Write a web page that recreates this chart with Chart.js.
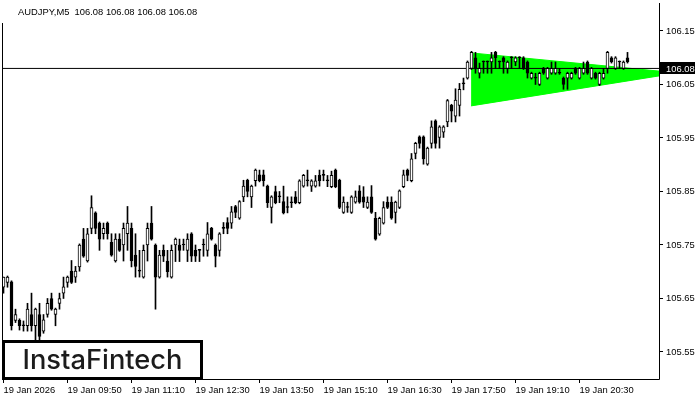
<!DOCTYPE html>
<html>
<head>
<meta charset="utf-8">
<script src="https://cdn.jsdelivr.net/npm/chart.js@4.4.1/dist/chart.umd.min.js"></script>
<style>
  html, body { margin: 0; padding: 0; background: #fff; }
  #chart { display: block; }
</style>
</head>
<body>
<canvas id="chart" width="700" height="400"></canvas>
<script>
const symbolTitle = 'AUDJPY,M5  106.08 106.08 106.08 106.08';
const logoText = 'InstaFintech';
const lastPrice = 106.08;

// x axis: one slot per M5 bar, labels every 16 bars
const timeTickIndex = [0, 16, 32, 48, 64, 80, 96, 112, 128, 144];
const timeLabels = ['19 Jan 2026', '19 Jan 09:50', '19 Jan 11:10', '19 Jan 12:30', '19 Jan 13:50',
  '19 Jan 15:10', '19 Jan 16:30', '19 Jan 17:50', '19 Jan 19:10', '19 Jan 20:30'];
const priceTicks = [105.55, 105.65, 105.75, 105.85, 105.95, 106.05, 106.15];

const opens = [
  105.671, 105.680, 105.681, 105.609, 105.609, 105.599, 105.599, 105.620, 105.599, 105.620,
  105.589, 105.620, 105.650, 105.620, 105.641, 105.660, 105.680, 105.701, 105.690, 105.709,
  105.761, 105.720, 105.781, 105.810, 105.791, 105.771, 105.791, 105.755, 105.720, 105.761,
  105.750, 105.771, 105.781, 105.731, 105.701, 105.690, 105.750, 105.791, 105.750, 105.690,
  105.740, 105.720, 105.690, 105.750, 105.750, 105.750, 105.740, 105.771, 105.740, 105.740,
  105.750, 105.740, 105.781, 105.750, 105.740, 105.781, 105.792, 105.791, 105.822, 105.800,
  105.840, 105.871, 105.840, 105.870, 105.881, 105.881, 105.860, 105.820, 105.850, 105.840,
  105.831, 105.820, 105.829, 105.840, 105.829, 105.860, 105.870, 105.860, 105.860, 105.880,
  105.880, 105.870, 105.859, 105.890, 105.871, 105.811, 105.820, 105.811, 105.830, 105.851,
  105.840, 105.820, 105.840, 105.800, 105.770, 105.791, 105.830, 105.830, 105.811, 105.820,
  105.859, 105.890, 105.870, 105.921, 105.952, 105.952, 105.901, 105.940, 105.982, 105.951,
  105.961, 105.980, 106.011, 105.991, 106.011, 106.051, 106.062, 106.080, 106.100, 106.071,
  106.092, 106.092, 106.092, 106.110, 106.092, 106.100, 106.080, 106.100, 106.092, 106.100,
  106.100, 106.092, 106.062, 106.062, 106.050, 106.080, 106.062, 106.071, 106.071, 106.071,
  106.062, 106.062, 106.062, 106.080, 106.062, 106.071, 106.092, 106.062, 106.071, 106.050,
  106.062, 106.080, 106.100, 106.080, 106.092, 106.080, 106.100
];
const highs = [
  105.690, 105.692, 105.683, 105.630, 105.612, 105.608, 105.641, 105.660, 105.632, 105.641,
  105.620, 105.650, 105.660, 105.632, 105.660, 105.690, 105.692, 105.721, 105.710, 105.752,
  105.781, 105.781, 105.842, 105.812, 105.793, 105.791, 105.793, 105.771, 105.771, 105.771,
  105.791, 105.822, 105.791, 105.771, 105.740, 105.750, 105.791, 105.822, 105.752, 105.740,
  105.750, 105.740, 105.750, 105.763, 105.761, 105.761, 105.771, 105.773, 105.750, 105.742,
  105.761, 105.792, 105.783, 105.752, 105.773, 105.792, 105.801, 105.822, 105.824, 105.833,
  105.871, 105.873, 105.862, 105.892, 105.890, 105.890, 105.862, 105.842, 105.860, 105.850,
  105.860, 105.840, 105.840, 105.850, 105.872, 105.882, 105.890, 105.872, 105.880, 105.890,
  105.890, 105.880, 105.888, 105.892, 105.873, 105.840, 105.830, 105.842, 105.851, 105.861,
  105.859, 105.840, 105.861, 105.811, 105.802, 105.831, 105.840, 105.840, 105.832, 105.853,
  105.890, 105.892, 105.921, 105.942, 105.954, 105.954, 105.933, 105.982, 105.984, 105.973,
  105.973, 106.022, 106.013, 106.042, 106.052, 106.062, 106.094, 106.112, 106.110, 106.090,
  106.094, 106.094, 106.110, 106.112, 106.094, 106.102, 106.094, 106.102, 106.102, 106.102,
  106.102, 106.094, 106.073, 106.071, 106.073, 106.082, 106.082, 106.092, 106.092, 106.080,
  106.064, 106.073, 106.073, 106.082, 106.082, 106.092, 106.094, 106.082, 106.073, 106.073,
  106.080, 106.112, 106.102, 106.102, 106.094, 106.094, 106.110
];
const lows = [
  105.660, 105.671, 105.591, 105.605, 105.591, 105.589, 105.589, 105.589, 105.572, 105.572,
  105.585, 105.615, 105.628, 105.599, 105.630, 105.650, 105.671, 105.678, 105.680, 105.701,
  105.727, 105.718, 105.771, 105.771, 105.740, 105.761, 105.761, 105.729, 105.718, 105.738,
  105.720, 105.740, 105.709, 105.690, 105.690, 105.688, 105.720, 105.759, 105.630, 105.688,
  105.719, 105.690, 105.688, 105.719, 105.719, 105.740, 105.719, 105.719, 105.719, 105.719,
  105.729, 105.729, 105.759, 105.709, 105.729, 105.771, 105.771, 105.781, 105.801, 105.798,
  105.831, 105.840, 105.820, 105.860, 105.868, 105.860, 105.820, 105.791, 105.827, 105.829,
  105.808, 105.810, 105.820, 105.827, 105.827, 105.858, 105.860, 105.850, 105.858, 105.860,
  105.870, 105.859, 105.857, 105.857, 105.818, 105.809, 105.811, 105.809, 105.828, 105.828,
  105.820, 105.818, 105.809, 105.759, 105.768, 105.789, 105.818, 105.798, 105.791, 105.818,
  105.857, 105.870, 105.868, 105.911, 105.931, 105.901, 105.899, 105.931, 105.931, 105.931,
  105.951, 105.971, 105.980, 105.980, 105.991, 106.040, 106.060, 106.078, 106.071, 106.062,
  106.071, 106.071, 106.071, 106.080, 106.080, 106.071, 106.071, 106.080, 106.085, 106.080,
  106.078, 106.062, 106.060, 106.050, 106.048, 106.069, 106.060, 106.069, 106.069, 106.069,
  106.041, 106.041, 106.060, 106.069, 106.060, 106.069, 106.069, 106.060, 106.060, 106.048,
  106.060, 106.071, 106.090, 106.078, 106.080, 106.078, 106.090
];
const closes = [
  105.690, 105.690, 105.599, 105.620, 105.599, 105.599, 105.630, 105.599, 105.630, 105.579,
  105.610, 105.641, 105.630, 105.630, 105.650, 105.672, 105.690, 105.680, 105.701, 105.750,
  105.729, 105.771, 105.820, 105.781, 105.761, 105.781, 105.771, 105.731, 105.761, 105.740,
  105.781, 105.791, 105.720, 105.710, 105.701, 105.740, 105.781, 105.761, 105.690, 105.731,
  105.729, 105.700, 105.740, 105.761, 105.740, 105.750, 105.761, 105.729, 105.729, 105.740,
  105.750, 105.771, 105.761, 105.729, 105.771, 105.781, 105.781, 105.812, 105.811, 105.831,
  105.860, 105.850, 105.860, 105.890, 105.870, 105.870, 105.829, 105.840, 105.829, 105.840,
  105.810, 105.820, 105.829, 105.829, 105.870, 105.880, 105.870, 105.870, 105.870, 105.870,
  105.880, 105.870, 105.880, 105.859, 105.820, 105.830, 105.820, 105.840, 105.840, 105.830,
  105.830, 105.830, 105.811, 105.761, 105.800, 105.820, 105.820, 105.800, 105.830, 105.851,
  105.881, 105.880, 105.911, 105.940, 105.940, 105.911, 105.931, 105.971, 105.940, 105.971,
  105.971, 106.020, 106.000, 106.021, 106.041, 106.051, 106.092, 106.110, 106.080, 106.080,
  106.092, 106.092, 106.100, 106.100, 106.092, 106.092, 106.092, 106.100, 106.100, 106.100,
  106.080, 106.071, 106.071, 106.062, 106.071, 106.071, 106.080, 106.080, 106.080, 106.071,
  106.050, 106.071, 106.071, 106.071, 106.080, 106.080, 106.071, 106.080, 106.062, 106.071,
  106.071, 106.110, 106.092, 106.100, 106.092, 106.092, 106.092
];

// green pennant: start bar and the two edges (start price, price at right edge)
const pennantBars = [116.9, 163.875];
const pennantUpper = [106.109, 106.075];
const pennantLower = [106.010, 106.066];

const xMin = -0.125, xMax = 163.875;
const yMin = 105.4995, yMax = 106.2023;
const axisFont = { family: "'Liberation Sans', Arial, sans-serif", size: 9.4 };

const bodies = opens.map((o, i) => ({ x: i, y: [o, closes[i]] }));
const wicks = opens.map((o, i) => ({ x: i, y: [lows[i], highs[i]] }));

const chromePlugin = {
    id: 'chrome',
    afterDraw(chart) {
        const { ctx, chartArea: a } = chart;
        ctx.save();
        // frame
        ctx.strokeStyle = '#000';
        ctx.lineWidth = 1;
        ctx.beginPath();
        ctx.moveTo(a.left - 0.5, 23);
        ctx.lineTo(a.left - 0.5, a.bottom + 0.5);
        ctx.lineTo(a.right + 0.5, a.bottom + 0.5);
        ctx.lineTo(a.right + 0.5, a.top);
        ctx.stroke();

        // title
        ctx.fillStyle = '#000';
        ctx.font = "9.4px 'Liberation Sans', Arial, sans-serif";
        ctx.textBaseline = 'alphabetic';
        ctx.textAlign = 'left';
        ctx.fillText(symbolTitle, 18, 15);

        // last price box
        const py = chart.scales.y.getPixelForValue(lastPrice);
        ctx.fillStyle = '#000';
        ctx.fillRect(a.right + 1, Math.round(py) - 6, 35, 12);
        ctx.fillStyle = '#fff';
        ctx.textBaseline = 'middle';
        ctx.fillText(lastPrice.toFixed(2), 666, py + 0.5);

        // logo box
        ctx.fillStyle = '#fff';
        ctx.fillRect(2, 340, 201, 40);
        ctx.lineWidth = 3;
        ctx.strokeStyle = '#000';
        ctx.strokeRect(3.5, 341.5, 198, 37);
        ctx.fillStyle = '#1c1c1c';
        ctx.font = "500 27px Inter, 'Open Sans', sans-serif";
        ctx.textBaseline = 'alphabetic';
        const w = ctx.measureText(logoText).width;
        ctx.translate(22.5, 368.5);
        ctx.scale(160 / w, 1);
        ctx.fillText(logoText, 0, 0);
        ctx.restore();
    }
};

new Chart(document.getElementById('chart'), {
    type: 'bar',
    data: {
        datasets: [
            {
                type: 'line',
                data: pennantBars.map((x, i) => ({ x, y: pennantUpper[i] })),
                borderColor: '#00ff00',
                borderWidth: 1,
                pointRadius: 0,
                fill: false,
                order: 5
            },
            {
                type: 'line',
                data: pennantBars.map((x, i) => ({ x, y: pennantLower[i] })),
                borderColor: '#00ff00',
                backgroundColor: '#00ff00',
                borderWidth: 1,
                pointRadius: 0,
                fill: '-1',
                order: 4
            },
            {
                type: 'line',
                data: [{ x: xMin, y: lastPrice }, { x: xMax, y: lastPrice }],
                borderColor: '#000',
                borderWidth: 1,
                pointRadius: 0,
                fill: false,
                order: 3
            },
            {
                data: wicks,
                barThickness: 1,
                backgroundColor: '#000',
                borderWidth: 0,
                grouped: false,
                order: 2
            },
            {
                data: bodies,
                barThickness: 3,
                backgroundColor: (c) => {
                    const i = c.dataIndex;
                    return closes[i] > opens[i] ? '#fff' : '#000';
                },
                borderColor: '#000',
                borderWidth: 1,
                borderSkipped: false,
                minBarLength: 1,
                grouped: false,
                order: 1
            }
        ]
    },
    options: {
        responsive: false,
        animation: false,
        events: [],
        layout: { padding: { left: 3, top: 3, right: 0, bottom: 0 } },
        plugins: {
            legend: { display: false },
            tooltip: { enabled: false }
        },
        scales: {
            x: {
                type: 'linear',
                min: xMin,
                max: xMax,
                offset: false,
                afterBuildTicks: (s) => { s.ticks = timeTickIndex.map(v => ({ value: v })); },
                afterFit: (s) => {
                    s.height = 21;
                    s.paddingLeft = 0;
                    s.paddingRight = 0;
                },
                ticks: {
                    autoSkip: false,
                    maxRotation: 0,
                    align: 'start',
                    padding: 2,
                    color: '#000',
                    font: axisFont,
                    callback: (v) => timeLabels[timeTickIndex.indexOf(v)]
                },
                grid: { drawOnChartArea: false, tickLength: 4, color: '#000', offset: false },
                border: { display: false }
            },
            y: {
                position: 'right',
                min: yMin,
                max: yMax,
                afterBuildTicks: (s) => { s.ticks = priceTicks.map(v => ({ value: v })); },
                afterFit: (s) => {
                    s.width = 41;
                    s.paddingTop = 0;
                    s.paddingBottom = 0;
                },
                ticks: {
                    padding: 3,
                    color: '#000',
                    font: axisFont,
                    callback: (v) => v.toFixed(2)
                },
                grid: { drawOnChartArea: false, tickLength: 4, color: '#000' },
                border: { display: false }
            }
        }
    },
    plugins: [chromePlugin]
});
</script>
</body>
</html>
